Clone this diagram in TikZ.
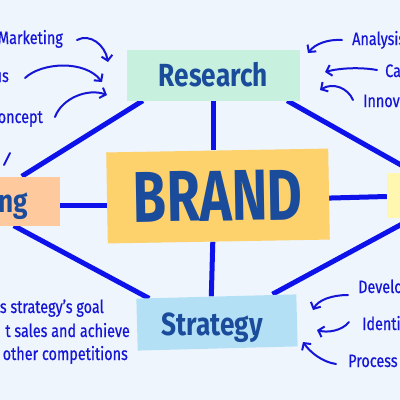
\documentclass[tikz,border=0pt]{standalone}
\usepackage{fontspec}
\usepackage{graphicx}
\setmainfont{Fira Sans}
\newfontfamily\notefont{Fira Sans}[FakeBold=0.6]
\usetikzlibrary{arrows.meta,calc}
\definecolor{bgc}{HTML}{EEF5FD}
\definecolor{ln}{HTML}{0D12EA}
\definecolor{ann}{HTML}{1515D6}
\definecolor{ttl}{HTML}{1B4C9C}
\definecolor{cres}{HTML}{C8F0DE}
\definecolor{cbrand}{HTML}{FDD16B}
\definecolor{cleft}{HTML}{FFC99E}
\definecolor{cright}{HTML}{FFF6B0}
\definecolor{cstrat}{HTML}{B4E0F6}
\pgfdeclarelayer{back}
\pgfsetlayers{back,main}
\newcommand{\ttxt}[1]{\scalebox{0.82}[1]{#1}}
\newcommand{\ntxt}[1]{\scalebox{0.8}[1]{#1}}
\begin{document}
\begin{tikzpicture}[x=1pt,y=-1pt,
  box/.style={rectangle, inner sep=0pt, draw=none, text=ttl,
    font=\fontsize{32}{32}\selectfont\bfseries},
  note/.style={text=ann, font=\notefont\fontsize{18}{18}\selectfont, inner sep=0pt},
  conn/.style={draw=ln, line width=5pt},
  arr/.style={draw=ann, line width=2pt, line cap=round, line join=round,
    -{Straight Barb[length=5pt,width=11pt,line width=2pt]}}
]
\useasboundingbox (0,0) rectangle (400,400);
\clip (0,0) rectangle (400,400);

% boxes
\node[box, fill=cres, minimum width=173pt, minimum height=51pt] (R) at (213.5,75) {\ttxt{Research}};
\node[box, fill=cbrand, minimum width=222pt, minimum height=91pt, rotate=1,
  font=\fontsize{72}{72}\selectfont\bfseries] (B) at (218,196) {\scalebox{0.75}[1]{BRAND}};
\node[box, fill=cleft, minimum width=62pt, minimum height=49pt] (L) at (29,201) {};
\node[box, anchor=base east] (Lt) at (28,212) {\ttxt{ng}};
\node[box, fill=cright, minimum width=66pt, minimum height=45pt] (RB) at (420,195.5) {};
\node[box, fill=cstrat, minimum width=160pt, minimum height=52pt, rotate=1.5] (S) at (217,322.5) {};
\node[box, anchor=base] (St) at (212,335) {\ttxt{Strategy}};

% connectors
\begin{pgfonlayer}{back}
\fill[bgc] (0,0) rectangle (400,400);
\begin{scope}
\clip (0,0) rectangle (400,400);
\draw[conn] (R.south) -- (R.south |- B.north);
\draw[conn] ($(B.south)+(-6,0)$) -- ($(S.north)+(-5,0)$);
\draw[conn] ($(R.south west)+(16,0)$) -- ($(L.north west)+(24,0)$);
\draw[conn] ($(R.south east)+(-13,0)$) -- ($(RB.north west)+(28,0)$);
\draw[conn] ($(L.south west)+(16,0)$) -- ($(S.north west)+(13,0)$);
\draw[conn] ($(S.north east)+(-24,0)$) -- ($(RB.south west)+(26,0)$);
\draw[conn] ($(L.east)+(0,4)$) -- ($(L.east -| B.west)+(0,4)$);
\draw[conn] ($(B.east)+(0,4)$) -- ($(RB.west)+(0,1)$);
\end{scope}
\end{pgfonlayer}

% left notes
\node[note, anchor=base east] (m1) at (63,44) {\ntxt{Marketing}};
\node[note, anchor=base east] (m2) at (9,82) {\ntxt{us}};
\node[note, anchor=base east] (m3) at (43,123) {\ntxt{oncept}};
\coordinate (a1) at (108,62);
\coordinate (a2) at (102,82);
\coordinate (a3) at (107,95);
\draw[arr] ($(m1.base east)+(14,-4)$) .. controls (90,33) and (105,45) .. (a1);
\draw[arr] ($(m2.base east)+(16,-4)$) .. controls (42,62) and (85,60) .. (a2);
\draw[arr] ($(m3.base east)+(12,-6)$) .. controls (62,98) and (88,88) .. (a3);
\coordinate (a0) at (4,165);
\draw[draw=ann, line width=2pt, line cap=round] (10,153) -- (a0);

% right notes
\node[note, anchor=base west] (n1) at (352,45) {\ntxt{Analysis}};
\node[note, anchor=base west] (n2) at (385,77) {\ntxt{Ca}};
\node[note, anchor=base west] (n3) at (363,107) {\ntxt{Innova}};
\coordinate (c1) at (308,53);
\coordinate (c2) at (325,72);
\coordinate (c3) at (320,90);
\draw[arr] ($(n1.base west)+(-10,-5)$) .. controls (328,39) and (315,44) .. (c1);
\draw[arr] ($(n2.base west)+(-8,-7)$) .. controls (360,67) and (340,68) .. (c2);
\draw[arr] ($(n3.base west)+(-10,-7)$) .. controls (348,88) and (333,82) .. (c3);

\node[note, anchor=base west] (n4) at (358,293) {\ntxt{Develop}};
\node[note, anchor=base west] (n5) at (362,330) {\ntxt{Identi}};
\node[note, anchor=base west] (n6) at (348,367) {\ntxt{Process}};
\coordinate (c4) at (313,310);
\coordinate (c5) at (317,330);
\coordinate (c6) at (303,342);
\draw[arr] ($(n4.base west)+(-10,2)$) .. controls (332,295) and (318,300) .. (c4);
\draw[arr] ($(n5.base west)+(-13,-8)$) .. controls (342,331) and (327,333) .. (c5);
\draw[arr] ($(n6.base west)+(-12,-3)$) .. controls (322,362) and (310,352) .. (c6);

% bottom left notes
\node[note, anchor=base east] (b1) at (104,313) {\ntxt{s strategy’s goal}};
\node[note, anchor=base east] (b2) at (130,337) {\ntxt{t sales and achieve}};
\node[note, anchor=base east] (b3) at (128,360) {\ntxt{t other competitions}};
\end{tikzpicture}
\end{document}
